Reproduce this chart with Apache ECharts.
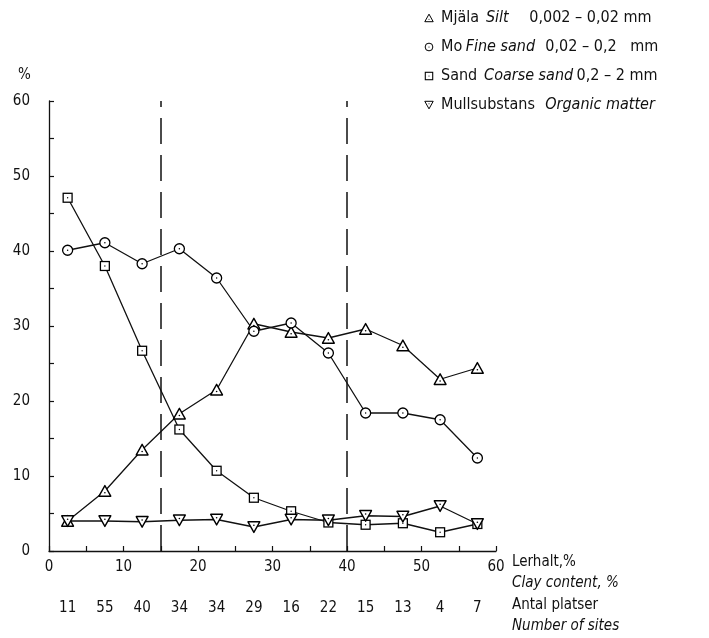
<!DOCTYPE html>
<html>
<head>
<meta charset="utf-8">
<script src="https://cdn.jsdelivr.net/npm/echarts@6/dist/echarts.min.js"></script>
<style>
  html, body { margin: 0; padding: 0; background: #fff; }
  #chart { width: 709px; height: 638px; }
</style>
</head>
<body>
<div id="chart"></div>
<script>
// Clay-content classes (midpoints of 5 % wide classes)
const clayClassMid = [2.5, 7.5, 12.5, 17.5, 22.5, 27.5, 32.5, 37.5, 42.5, 47.5, 52.5, 57.5];
// Number of sites in each class
const sitesCount = ['11', '55', '40', '34', '34', '29', '16', '22', '15', '13', '4', '7'];

// Particle-size fractions, % of sample
const silt       = [4.0, 8.0, 13.5, 18.3, 21.5, 30.3, 29.2, 28.4, 29.6, 27.4, 22.9, 24.4];
const fineSand   = [40.1, 41.1, 38.3, 40.3, 36.4, 29.3, 30.4, 26.4, 18.4, 18.4, 17.5, 12.4];
const coarseSand = [47.1, 38.0, 26.7, 16.2, 10.7, 7.1, 5.3, 3.8, 3.5, 3.7, 2.5, 3.6];
const organic    = [4.0, 4.0, 3.9, 4.1, 4.2, 3.2, 4.2, 4.1, 4.7, 4.6, 6.0, 3.6];

// Class boundaries marked with dashed lines
const boundaries = [15, 40];

const FONT = '"DejaVu Sans Condensed", "Liberation Sans Narrow", "DejaVu Sans", sans-serif';

function svgIcon(shape) {
  const s = "<svg xmlns='http://www.w3.org/2000/svg' width='28' height='28' viewBox='0 0 14 14'>" + shape + "</svg>";
  return 'image://data:image/svg+xml;charset=utf-8,' + encodeURIComponent(s);
}
const dot = (cx, cy) => "<circle cx='" + cx + "' cy='" + cy + "' r='0.8' fill='black'/>";
const ICON_TRI_UP = svgIcon("<polygon points='7,1.6 12.9,12.2 1.1,12.2' fill='white' stroke='black' stroke-width='1.4' stroke-linejoin='round'/>" + dot(7, 8.8));
const ICON_CIRCLE = svgIcon("<circle cx='7' cy='7' r='5.4' fill='white' stroke='black' stroke-width='1.4'/>" + dot(7, 7));
const ICON_SQUARE = svgIcon("<rect x='1.8' y='1.8' width='10.4' height='10.4' fill='white' stroke='black' stroke-width='1.5'/>" + dot(7, 7));
const ICON_TRI_DOWN = svgIcon("<polygon points='1.1,1.8 12.9,1.8 7,12.4' fill='white' stroke='black' stroke-width='1.4' stroke-linejoin='round'/>" + dot(7, 5.2));

const pairs = vals => clayClassMid.map((x, i) => [x, vals[i]]);

const lineStyle = { color: '#111', width: 1.3 };

function makeSeries(name, vals, icon, size) {
  return {
    name: name,
    type: 'line',
    data: pairs(vals),
    symbol: icon,
    symbolSize: size,
    showAllSymbol: true,
    lineStyle: lineStyle,
    itemStyle: { color: '#111' },
    emphasis: { disabled: true },
    animation: false
  };
}

const seriesSilt = makeSeries('Mjäla', silt, ICON_TRI_UP, 14);
const seriesFine = makeSeries('Mo', fineSand, ICON_CIRCLE, 13);
const seriesCoarse = makeSeries('Sand', coarseSand, ICON_SQUARE, 12);
const seriesOrg = makeSeries('Mullsubstans', organic, ICON_TRI_DOWN, 14);

seriesSilt.markLine = {
  silent: true,
  symbol: ['none', 'none'],
  label: { show: false },
  lineStyle: { color: '#111', width: 1.5, type: [26, 11] },
  data: boundaries.map(b => ({ xAxis: b }))
};

const legendText = {
  'Mjäla': '{n|Mjäla}  {i|Silt}      {n|0,002 – 0,02 mm}',
  'Mo': '{n|Mo} {i|Fine sand}   {n|0,02 – 0,2   mm}',
  'Sand': '{n|Sand}  {i|Coarse sand} {n|0,2 – 2 mm}',
  'Mullsubstans': '{n|Mullsubstans}   {i|Organic matter}'
};

// Every 5 % gets an inward tick; every 10 % gets a label
const tenOnly = v => (v % 10 === 0 ? String(v) : '');

const chart = echarts.init(document.getElementById('chart'), null, { renderer: 'canvas' });

chart.setOption({
  backgroundColor: '#fff',
  animation: false,
  textStyle: { fontFamily: FONT, color: '#111' },
  grid: { left: 49, top: 101, right: 213, bottom: 87, containLabel: false },
  legend: {
    orient: 'vertical',
    left: 419,
    top: 5,
    itemGap: 13,
    itemWidth: 10,
    itemHeight: 10,
    selectedMode: false,
    data: [
      { name: 'Mjäla', icon: ICON_TRI_UP },
      { name: 'Mo', icon: ICON_CIRCLE },
      { name: 'Sand', icon: ICON_SQUARE },
      { name: 'Mullsubstans', icon: ICON_TRI_DOWN }
    ],
    formatter: name => legendText[name],
    textStyle: {
      fontFamily: FONT,
      padding: [0, 0, 0, 2],
      rich: {
        n: { fontFamily: FONT, fontSize: 16, color: '#111', lineHeight: 17 },
        i: { fontFamily: FONT, fontSize: 16, fontStyle: 'italic', color: '#111', lineHeight: 17 }
      }
    }
  },
  xAxis: [
    {
      type: 'value',
      min: 0, max: 60, interval: 5,
      axisLine: { show: true, lineStyle: { color: '#111', width: 1.3 } },
      axisTick: { show: true, inside: true, length: 5, lineStyle: { color: '#111', width: 1.2 } },
      splitLine: { show: false },
      axisLabel: { fontSize: 15, color: '#111', margin: 9, fontFamily: FONT, formatter: tenOnly }
    },
    {
      type: 'category',
      position: 'bottom',
      offset: 42,
      boundaryGap: true,
      data: sitesCount,
      axisLine: { show: false },
      axisTick: { show: false },
      axisLabel: { fontSize: 15, color: '#111', margin: 8, interval: 0, fontFamily: FONT }
    }
  ],
  yAxis: {
    type: 'value',
    min: 0, max: 60, interval: 5,
    axisLine: { show: true, lineStyle: { color: '#111', width: 1.3 } },
    axisTick: { show: true, inside: true, length: 5, lineStyle: { color: '#111', width: 1.2 } },
    splitLine: { show: false },
    axisLabel: { fontSize: 15, color: '#111', margin: 19, fontFamily: FONT, formatter: tenOnly }
  },
  graphic: [
    { type: 'text', left: 18, top: 68, style: { text: '%', font: '15px ' + FONT, fill: '#111' } },
    { type: 'text', left: 512, top: 555, style: { text: 'Lerhalt,%', font: '15px ' + FONT, fill: '#111' } },
    { type: 'text', left: 512, top: 576, style: { text: 'Clay content, %', font: 'italic 15px ' + FONT, fill: '#111' } },
    { type: 'text', left: 512, top: 598, style: { text: 'Antal platser', font: '15px ' + FONT, fill: '#111' } },
    { type: 'text', left: 512, top: 619, style: { text: 'Number of sites', font: 'italic 15px ' + FONT, fill: '#111' } }
  ],
  series: [seriesSilt, seriesFine, seriesCoarse, seriesOrg]
});
</script>
</body>
</html>
